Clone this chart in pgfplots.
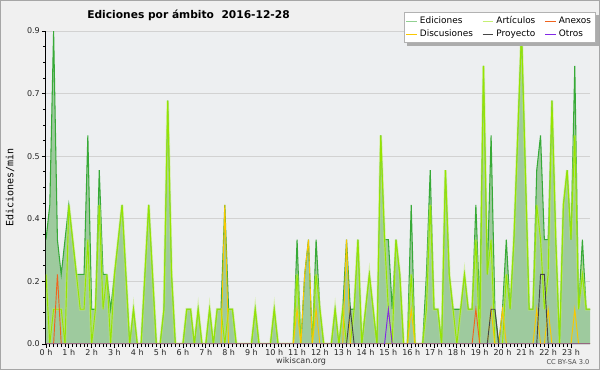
\documentclass[border=0pt]{standalone}
\usepackage{pgfplots}
\pgfplotsset{compat=1.18}
\usepackage{pgfplotstable}
\usepackage{fontspec}
\setmainfont{DejaVu Sans}
\setmonofont{DejaVu Sans Mono}

\definecolor{bgout}{RGB}{240,240,240}
\definecolor{bgin}{RGB}{237,239,241}
\definecolor{edline}{RGB}{55,170,55}
\definecolor{edfill}{RGB}{158,202,158}
\definecolor{artline}{RGB}{150,228,0}
\definecolor{anxline}{RGB}{240,100,30}
\definecolor{discline}{RGB}{250,200,0}
\definecolor{proyline}{RGB}{70,70,70}
\definecolor{otrline}{RGB}{130,40,230}

\pgfplotstableread{
i ed art anx disc proy otr
0 0.3 0.2 0 0 0 0
1 0.4 0 0 0 0 0
2 0.9 0.1 0 0 0 0
3 0.3 0.1 0.2 0 0 0
4 0.2 0.1 0 0 0 0
5 0.3 0 0 0 0 0
6 0.4 0.4 0 0 0 0
7 0.3 0.3 0 0 0 0
8 0.2 0.2 0 0 0 0
9 0.2 0.1 0 0 0 0
10 0.2 0.1 0 0 0 0
11 0.6 0.3 0 0 0 0
12 0.1 0 0 0 0 0
13 0.1 0.1 0 0 0 0
14 0.5 0.4 0 0 0 0
15 0.2 0.1 0 0 0 0
16 0.2 0.2 0 0 0 0
17 0.1 0 0 0 0 0
18 0.2 0.2 0 0 0 0
19 0.3 0.3 0 0 0 0
20 0.4 0.4 0 0 0 0
21 0.2 0.2 0 0 0 0
22 0 0 0 0 0 0
23 0.1 0.1 0 0 0 0
24 0 0 0 0 0 0
25 0 0 0 0 0 0
26 0.2 0.2 0 0 0 0
27 0.4 0.4 0 0 0 0
28 0.2 0.2 0 0 0 0
29 0 0 0 0 0 0
30 0 0 0 0 0 0
31 0.1 0.1 0 0 0 0
32 0.7 0.7 0 0 0 0
33 0.2 0.2 0 0 0 0
34 0 0 0 0 0 0
35 0 0 0 0 0 0
36 0 0 0 0 0 0
37 0.1 0.1 0 0 0 0
38 0.1 0.1 0 0 0 0
39 0 0 0 0 0 0
40 0.1 0.1 0 0 0 0
41 0 0 0 0 0 0
42 0 0 0 0 0 0
43 0.1 0.1 0 0 0 0
44 0 0 0 0 0 0
45 0.1 0.1 0 0 0 0
46 0.1 0.1 0 0 0 0
47 0.4 0 0 0.4 0 0
48 0.1 0.1 0 0 0 0
49 0.1 0.1 0 0 0 0
50 0 0 0 0 0 0
51 0 0 0 0 0 0
52 0 0 0 0 0 0
53 0 0 0 0 0 0
54 0 0 0 0 0 0
55 0.1 0.1 0 0 0 0
56 0 0 0 0 0 0
57 0 0 0 0 0 0
58 0 0 0 0 0 0
59 0 0 0 0 0 0
60 0.1 0.1 0 0 0 0
61 0 0 0 0 0 0
62 0 0 0 0 0 0
63 0 0 0 0 0 0
64 0 0 0 0 0 0
65 0 0 0 0 0 0
66 0.3 0.2 0 0.1 0 0
67 0 0 0 0 0 0
68 0.2 0 0 0.2 0 0
69 0.3 0 0 0.3 0 0
70 0 0 0 0 0 0
71 0.3 0.2 0 0.1 0 0
72 0.1 0.1 0 0 0 0
73 0 0 0 0 0 0
74 0 0 0 0 0 0
75 0 0 0 0 0 0
76 0.1 0.1 0 0 0 0
77 0 0 0 0 0 0
78 0.1 0.1 0 0 0 0
79 0.3 0 0 0.3 0 0
80 0.1 0 0 0 0.1 0
81 0.1 0.1 0 0 0 0
82 0.3 0.3 0 0 0 0
83 0 0 0 0 0 0
84 0.1 0.1 0 0 0 0
85 0.2 0.2 0 0 0 0
86 0.1 0.1 0 0 0 0
87 0 0 0 0 0 0
88 0.6 0.6 0 0 0 0
89 0.3 0.3 0 0 0 0
90 0.3 0.1 0 0 0 0.1
91 0.1 0 0 0 0 0
92 0.3 0.3 0 0 0 0
93 0.2 0.2 0 0 0 0
94 0 0 0 0 0 0
95 0 0 0 0 0 0
96 0.4 0.2 0 0.1 0 0
97 0 0 0 0 0 0
98 0 0 0 0 0 0
99 0 0 0 0 0 0
100 0.2 0.1 0 0 0 0
101 0.5 0.4 0 0 0 0
102 0.1 0.1 0 0 0 0
103 0.1 0.1 0 0 0 0
104 0 0 0 0 0 0
105 0.5 0.5 0 0 0 0
106 0.2 0.2 0 0 0 0
107 0.1 0.1 0 0 0 0
108 0.1 0 0 0 0 0
109 0.1 0.1 0 0 0 0
110 0.2 0.2 0 0 0 0
111 0.1 0.1 0 0 0 0
112 0.1 0.1 0 0 0 0
113 0.4 0.3 0.1 0 0 0
114 0.1 0 0 0 0 0
115 0.8 0.8 0 0 0 0
116 0.2 0.2 0 0 0 0
117 0.6 0.3 0 0.1 0.1 0
118 0.1 0 0 0 0.1 0
119 0 0 0 0 0 0
120 0.1 0 0 0.1 0 0
121 0.3 0.2 0 0 0 0
122 0.1 0.1 0 0 0 0
123 0.3 0.3 0 0 0 0
124 0.6 0.6 0 0 0 0
125 0.9 0.9 0 0 0 0
126 0.5 0.5 0 0 0 0
127 0.1 0.1 0 0 0 0
128 0.1 0.1 0 0 0 0
129 0.5 0.4 0 0.1 0 0
130 0.6 0.3 0 0 0.2 0
131 0.3 0.1 0 0 0.2 0
132 0.3 0.2 0 0.1 0 0
133 0.7 0.7 0 0 0 0
134 0.3 0.3 0 0 0 0
135 0 0 0 0 0 0
136 0.4 0.4 0 0 0 0
137 0.5 0.5 0 0 0 0
138 0.3 0.3 0 0 0 0
139 0.8 0.6 0 0.1 0 0
140 0.1 0.1 0 0 0 0
141 0.3 0.2 0 0 0 0
142 0.1 0.1 0 0 0 0
143 0.1 0.1 0 0 0 0
}\data

\begin{document}
\begin{tikzpicture}[x=1pt,y=1pt]
\fill[bgout] (-34.5,-19.5) rectangle (415.5,258);
\begin{axis}[
  at={(0,0)}, anchor=south west,
  scale only axis, width=408pt, height=234.75pt,
  xmin=0, xmax=143, ymin=0, ymax=0.9,
  axis background/.style={fill=bgin},
  axis lines*=left,
  axis line style={black, line width=0.75pt, -},
  tick align=outside,
  tick style={black, line width=0.6pt},
  major tick length=3pt, minor tick length=2.2pt,
  xtick={0,6,...,138},
  xticklabels={0 h,1 h,2 h,3 h,4 h,5 h,6 h,7 h,8 h,9 h,10 h,11 h,12 h,13 h,14 h,15 h,16 h,17 h,18 h,19 h,20 h,21 h,22 h,23 h},
  minor x tick num=5,
  ytick={0,0.18,0.36,0.54,0.72,0.9},
  yticklabels={0.0,0.2,0.4,0.5,0.7,0.9},
  minor y tick num=3,
  ymajorgrids,
  major grid style={gray!35, line width=0.7pt},
  /pgf/number format/assume math mode=true,
  tick label style={font=\fontsize{6}{7}\selectfont, text=black!85},
  xticklabel style={inner sep=1pt},
  yticklabel style={inner sep=1.5pt},
  xlabel={wikiscan.org},
  xlabel style={at={(axis description cs:0.469,-0.0543)}, anchor=center, font=\fontsize{6}{7}\selectfont, text=black!80},
  ylabel={Ediciones/min},
  ylabel style={at={(axis description cs:-0.066,0.5)}, anchor=center, font=\ttfamily\fontsize{7.5}{8}\selectfont},
  every axis title shift=0pt,
  title={Ediciones por ámbito\ \ 2016-12-28},
  title style={at={(axis description cs:0.262,1.051)}, anchor=center, font=\bfseries\fontsize{8}{9}\selectfont},
  legend columns=3,
  legend cell align=left,
  legend image code/.code={\draw[#1, line width=0.6pt] (0pt,0pt) -- (8pt,0pt);},
  legend style={name=leg, at={(axis description cs:0.658,1.0607)}, anchor=north west,
    font=\fontsize{6.7}{7.2}\selectfont, draw=gray!60, fill=white,
    inner sep=1.2pt, row sep=-1pt,
    /tikz/every even column/.append style={column sep=5pt}},
]
\addplot[draw=none, fill=edfill, forget plot] table[x=i,y=ed]{\data} \closedcycle;
\addplot[edline, line width=0.8pt, legend image post style={color=edline!55}] table[x=i,y=ed]{\data};
\addplot[artline!60, line width=2pt, opacity=0.5, forget plot] table[x=i,y=art]{\data};
\addplot[artline, line width=0.7pt, legend image post style={color=artline!55}] table[x=i,y=art]{\data};
\addplot[anxline, line width=0.7pt] table[x=i,y=anx]{\data};
\addplot[discline, line width=0.7pt] table[x=i,y=disc]{\data};
\addplot[proyline, line width=0.7pt] table[x=i,y=proy]{\data};
\addplot[otrline, line width=0.7pt] table[x=i,y=otr]{\data};
\legend{Ediciones, Artículos, Anexos, Discusiones, Proyecto, Otros}
\end{axis}
\fill[gray!65] ([xshift=2.5pt,yshift=-2.5pt]leg.south west) rectangle ([xshift=0.3pt,yshift=-0.3pt]leg.south east);
\fill[gray!65] ([xshift=0.3pt,yshift=-2.5pt]leg.south east) rectangle ([xshift=2.5pt,yshift=-2.5pt]leg.north east);
\node[font=\fontsize{5}{6}\selectfont, text=black!70] at (391.5,-13.5) {CC BY-SA 3.0};
\draw[gray!70, line width=0.8pt] (-34.1,-19.1) rectangle (415.1,257.6);
\pgfresetboundingbox
\path (-34.5,-19.5) rectangle (415.5,258);
\end{tikzpicture}
\end{document}
